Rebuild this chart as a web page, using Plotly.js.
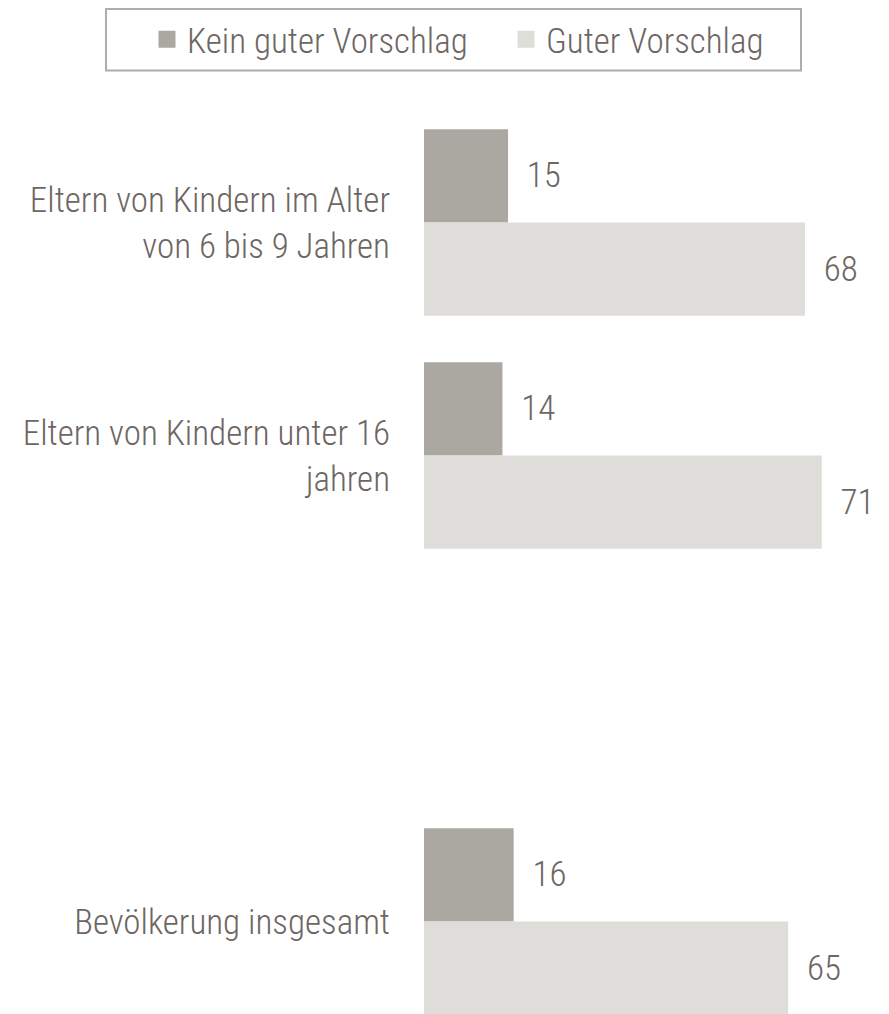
<!DOCTYPE html>
<html>
<head>
<meta charset="utf-8">
<script src="https://cdn.plot.ly/plotly-3.0.1.min.js"></script>
<style>html,body{margin:0;padding:0;background:#fff;}#chart{width:889px;height:1014px;}</style>
</head>
<body>
<div id="chart"></div>
<script>
const categories = [
  "Eltern von Kindern im Alter<br>von 6 bis 9 Jahren",
  "Eltern von Kindern unter 16<br>jahren",
  " ",
  "Bevölkerung insgesamt"
];
const seriesNames = ["Kein guter Vorschlag", "Guter Vorschlag"];
const seriesColors = ["#aba8a1", "#deddd9"];
const keinGuter = [15, 14, null, 16];
const guter = [68, 71, null, 65];

const FONT = '"Roboto Condensed", "Liberation Sans Narrow", "Arial Narrow", sans-serif';
const TEXT = '#6d6662';
const FS = 35;
const W = 889, H = 1014, TOP = 106;

const common = {
  type: 'bar', orientation: 'h', y: categories,
  textposition: 'outside', cliponaxis: false, constraintext: 'none',
  texttemplate: '\u00a0\u00a0%{x}',
  textfont: {family: FONT, size: FS, color: TEXT, weight: 300},
  hoverinfo: 'skip', showlegend: false
};

const data = [
  Object.assign({}, common, {name: seriesNames[0], x: keinGuter, marker: {color: seriesColors[0]}}),
  Object.assign({}, common, {name: seriesNames[1], x: guter, marker: {color: seriesColors[1]}})
];
// legend-only entries (separate hidden subplot so the bar grouping is unaffected)
seriesNames.forEach((n, i) => {
  data.push({
    type: 'bar', orientation: 'h', name: n, x: [null], y: [null],
    xaxis: 'x2', yaxis: 'y2', showlegend: true, hoverinfo: 'skip',
    marker: {color: seriesColors[i], line: {color: seriesColors[i], width: 5}}
  });
});

// paper coords of the legend frame
const px = v => v / W;
const py = v => (H - v) / (H - TOP);

const layout = {
  width: W, height: H,
  margin: {l: 0, r: 0, t: TOP, b: 0, pad: 0},
  paper_bgcolor: '#ffffff', plot_bgcolor: '#ffffff',
  font: {family: FONT, size: FS, color: TEXT, weight: 300},
  barmode: 'group', bargap: 0.2, bargroupgap: 0,
  showlegend: true,
  legend: {
    orientation: 'h', xref: 'paper', yref: 'container',
    x: 147 / W, xanchor: 'left', y: 1 - 10 / H, yanchor: 'top',
    borderwidth: 0, bgcolor: 'rgba(0,0,0,0)',
    font: {family: FONT, size: FS, color: TEXT, weight: 300},
    traceorder: 'normal', entrywidth: 314, entrywidthmode: 'pixels'
  },
  shapes: [{
    type: 'rect', xref: 'paper', yref: 'paper',
    x0: px(106), x1: px(801), y0: py(9), y1: py(70.5),
    line: {color: '#b0aca6', width: 2}, fillcolor: 'rgba(0,0,0,0)', layer: 'below'
  }],
  xaxis: {domain: [424 / W, 1], range: [0, 83.0], visible: false, fixedrange: true},
  yaxis: {
    type: 'category', categoryorder: 'array', categoryarray: categories,
    range: [3.397, -0.5], autorange: false, automargin: false,
    showline: false, showgrid: false, zeroline: false,
    ticks: 'outside', ticklen: 26, tickcolor: 'rgba(0,0,0,0)',
    tickfont: {family: FONT, size: FS, color: TEXT, weight: 300}
  },
  xaxis2: {domain: [0, 0.001], anchor: 'y2', visible: false},
  yaxis2: {domain: [0, 0.001], anchor: 'x2', visible: false}
};

Plotly.newPlot('chart', data, layout, {displayModeBar: false, staticPlot: true});
</script>
</body>
</html>
